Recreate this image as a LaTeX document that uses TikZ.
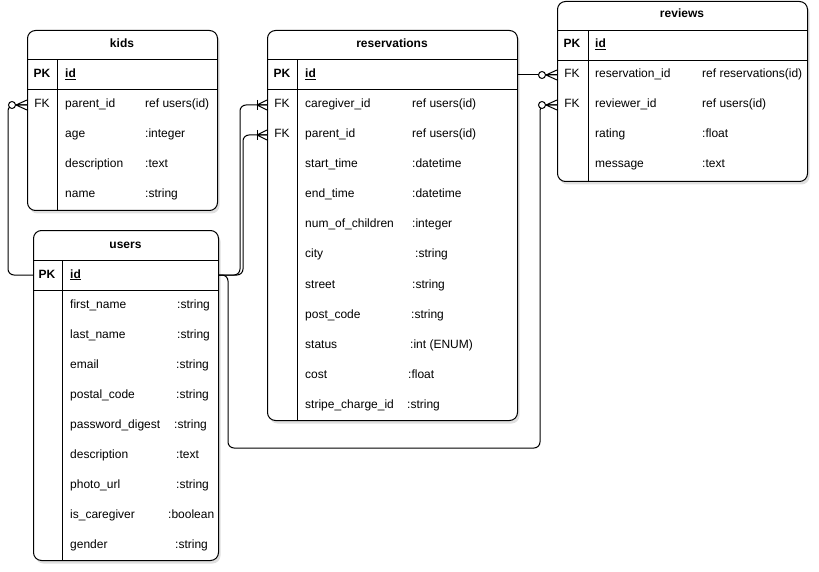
\documentclass[tikz,border=0pt]{standalone}
\usepackage{fontspec}
\setmainfont{Liberation Sans}
\usetikzlibrary{shadows}
\tikzset{
  tbl/.style={draw=black, line width=1pt, rounded corners=8pt, fill=white,
    drop shadow={opacity=0.25, shadow xshift=2pt, shadow yshift=-3pt}},
  sep/.style={draw=black, line width=1pt},
  conn/.style={draw=black, line width=1pt, rounded corners=6pt},
  ttl/.style={font=\fontsize{12}{14}\selectfont\bfseries, inner sep=0pt, text height=8.6pt, text depth=2.6pt},
  key/.style={font=\fontsize{12}{14}\selectfont, inner sep=0pt, text height=8.6pt, text depth=2.6pt},
  fld/.style={font=\fontsize{12}{14}\selectfont, inner sep=0pt, anchor=west, text height=8.6pt, text depth=2.6pt},
  crowzero/.pic={\draw[line width=1pt] (-11,0) -- (0,-5) (-11,0) -- (0,0) (-11,0) -- (0,5);
                 \draw[line width=1pt, fill=white] (-15,0) circle (3.5);},
  crowone/.pic={\draw[line width=1pt] (-10,0) -- (0,-5) (-10,0) -- (0,0) (-10,0) -- (0,5);
                 \draw[line width=1pt] (-10,-5) -- (-10,5);}
}
\begin{document}
\begin{tikzpicture}[x=1pt, y=-1pt]
\useasboundingbox (0,0) rectangle (819,572);

% ---------------- kids ----------------
\node[tbl, minimum width=190pt, minimum height=180pt, anchor=north west, inner sep=0pt] (kids) at (27,30) {};
\draw[sep] (27,60) -- (217,60);
\draw[sep] (27,90) -- (217,90);
\draw[sep] (57,60) -- (57,210);
\node[ttl] (kidsT) at (122,45) {kids};
\node[key, font=\fontsize{12}{14}\selectfont\bfseries] (kidsPK) at (42,75) {PK};
\node[fld, font=\fontsize{12}{14}\selectfont\bfseries] (kidsId) at (65,75) {\underline{id}};
\node[key] (kidsFK) at (42,105) {FK};
\node[fld] (k1) at (65,105) {parent\_id};
\node[fld] (k1t) at (145,105) {ref users(id)};
\node[fld] (k2) at (65,135) {age};
\node[fld] (k2t) at (145,135) {:integer};
\node[fld] (k3) at (65,165) {description};
\node[fld] (k3t) at (145,165) {:text};
\node[fld] (k4) at (65,195) {name};
\node[fld] (k4t) at (145,195) {:string};
\coordinate (kFK) at (27,105);

% ---------------- users ----------------
\node[tbl, minimum width=185pt, minimum height=330pt, anchor=north west, inner sep=0pt] (users) at (33,230) {};
\draw[sep] (33,260) -- (218,260);
\draw[sep] (33,290) -- (218,290);
\draw[sep] (62,260) -- (62,560);
\node[ttl] (usersT) at (125.5,245) {users};
\node[key, font=\fontsize{12}{14}\selectfont\bfseries] (usersPK) at (47,275) {PK};
\node[fld, font=\fontsize{12}{14}\selectfont\bfseries] (usersId) at (70,275) {\underline{id}};
\node[fld] (u1) at (70,305) {first\_name};
\node[fld] (u1t) at (177,305) {:string};
\node[fld] (u2) at (70,335) {last\_name};
\node[fld] (u2t) at (177,335) {:string};
\node[fld] (u3) at (70,365) {email};
\node[fld] (u3t) at (176,365) {:string};
\node[fld] (u4) at (70,395) {postal\_code};
\node[fld] (u4t) at (176,395) {:string};
\node[fld] (u5) at (70,425) {password\_digest};
\node[fld] (u5t) at (174,425) {:string};
\node[fld] (u6) at (70,455) {description};
\node[fld] (u6t) at (176,455) {:text};
\node[fld] (u7) at (70,485) {photo\_url};
\node[fld] (u7t) at (176,485) {:string};
\node[fld] (u8) at (70,515) {is\_caregiver};
\node[fld] (u8t) at (168,515) {:boolean};
\node[fld] (u9) at (70,545) {gender};
\node[fld] (u9t) at (175,545) {:string};
\coordinate (uL) at (33,275);
\coordinate (uR) at (218,275);

% ---------------- reservations ----------------
\node[tbl, minimum width=250pt, minimum height=390pt, anchor=north west, inner sep=0pt] (res) at (267,30) {};
\draw[sep] (267,60) -- (517,60);
\draw[sep] (267,90) -- (517,90);
\draw[sep] (297,60) -- (297,420);
\node[ttl] (resT) at (392,45) {reservations};
\node[key, font=\fontsize{12}{14}\selectfont\bfseries] (resPK) at (282,75) {PK};
\node[fld, font=\fontsize{12}{14}\selectfont\bfseries] (resId) at (305,75) {\underline{id}};
\node[key] (resFK1) at (282,105) {FK};
\node[key] (resFK2) at (282,135) {FK};
\node[fld] (r1) at (305,105) {caregiver\_id};
\node[fld] (r1t) at (412,105) {ref users(id)};
\node[fld] (r2) at (305,135) {parent\_id};
\node[fld] (r2t) at (412,135) {ref users(id)};
\node[fld] (r3) at (305,165) {start\_time};
\node[fld] (r3t) at (412,165) {:datetime};
\node[fld] (r4) at (305,195) {end\_time};
\node[fld] (r4t) at (412,195) {:datetime};
\node[fld] (r5) at (305,225) {num\_of\_children};
\node[fld] (r5t) at (412,225) {:integer};
\node[fld] (r6) at (305,255) {city};
\node[fld] (r6t) at (415,255) {:string};
\node[fld] (r7) at (305,285) {street};
\node[fld] (r7t) at (412,285) {:string};
\node[fld] (r8) at (305,315) {post\_code};
\node[fld] (r8t) at (411,315) {:string};
\node[fld] (r9) at (305,345) {status};
\node[fld] (r9t) at (410,345) {:int (ENUM)};
\node[fld] (r10) at (305,375) {cost};
\node[fld] (r10t) at (408,375) {:float};
\node[fld] (r11) at (305,405) {stripe\_charge\_id};
\node[fld] (r11t) at (407,405) {:string};
\coordinate (rR) at (517,75);
\coordinate (rFK1) at (267,105);
\coordinate (rFK2) at (267,135);

% ---------------- reviews ----------------
\node[tbl, minimum width=250pt, minimum height=180pt, anchor=north west, inner sep=0pt] (rev) at (557,1) {};
\draw[sep] (557,31) -- (807,31);
\draw[sep] (557,61) -- (807,61);
\draw[sep] (588,31) -- (588,181);
\node[ttl] (revT) at (682,15) {reviews};
\node[key, font=\fontsize{12}{14}\selectfont\bfseries] (revPK) at (572,45) {PK};
\node[fld, font=\fontsize{12}{14}\selectfont\bfseries] (revId) at (595,45) {\underline{id}};
\node[key] (revFK1) at (572,75) {FK};
\node[key] (revFK2) at (572,105) {FK};
\node[fld] (v1) at (595,75) {reservation\_id};
\node[fld] (v1t) at (702,75) {ref reservations(id)};
\node[fld] (v2) at (595,105) {reviewer\_id};
\node[fld] (v2t) at (702,105) {ref users(id)};
\node[fld] (v3) at (595,135) {rating};
\node[fld] (v3t) at (702,135) {:float};
\node[fld] (v4) at (595,165) {message};
\node[fld] (v4t) at (702,165) {:text};
\coordinate (vFK1) at (557,75);
\coordinate (vFK2) at (557,105);

% ---------------- connectors ----------------
\draw[conn] (uL) -| (8,190) |- (kFK);
\draw[conn] (uR) -| (240,190) |- (rFK1);
\draw[conn] (uR) -| (243,190) |- (rFK2);
\draw[conn] (rR) -- (vFK1);
\draw[conn] (uR) -| (228,448) -| (540,300) |- (vFK2);

\pic at (kFK) {crowzero};
\pic at (vFK1) {crowzero};
\pic at (vFK2) {crowzero};
\pic at (rFK1) {crowone};
\pic at (rFK2) {crowone};
\end{tikzpicture}
\end{document}
